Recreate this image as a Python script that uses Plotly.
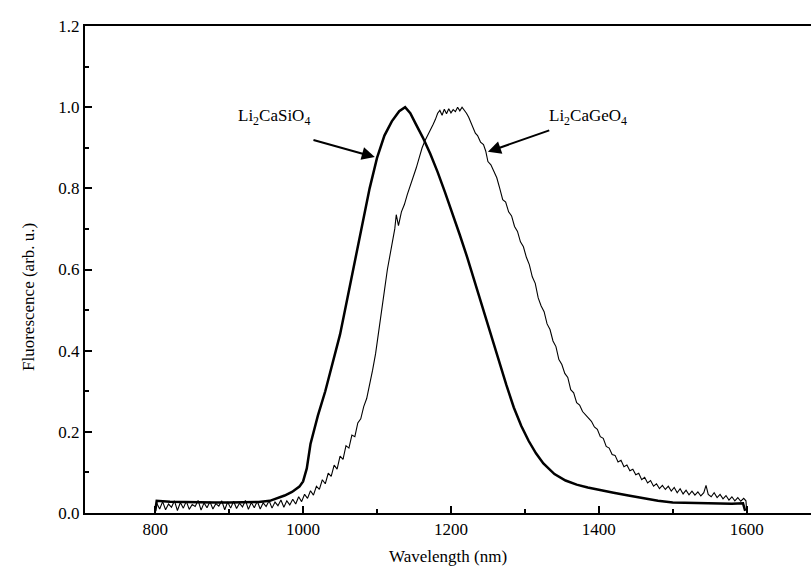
import plotly.graph_objects as go

# Li2CaSiO4 (thick, smooth)
si_x = [800, 802, 820, 840, 860, 880, 900, 920, 940, 955,
        965, 975, 985, 995, 1000, 1005, 1010, 1020, 1030, 1040,
        1050, 1060, 1070, 1080, 1090, 1100, 1110, 1120, 1130, 1138,
        1145, 1152, 1162, 1172, 1182, 1192, 1202, 1212, 1222, 1232,
        1243, 1255, 1265, 1275, 1285, 1295, 1305, 1315, 1325, 1340,
        1355, 1370, 1385, 1400, 1420, 1440, 1460, 1480, 1500, 1520,
        1540, 1560, 1580, 1595, 1598]
si_y = [0.005, 0.030, 0.028, 0.027, 0.027, 0.026, 0.026, 0.026, 0.027, 0.030,
        0.036, 0.043, 0.052, 0.065, 0.078, 0.110, 0.170, 0.240, 0.300, 0.370,
        0.440, 0.530, 0.620, 0.710, 0.800, 0.875, 0.930, 0.965, 0.990, 1.000,
        0.985, 0.960, 0.925, 0.885, 0.840, 0.790, 0.740, 0.685, 0.630, 0.570,
        0.505, 0.435, 0.375, 0.315, 0.260, 0.215, 0.178, 0.147, 0.122, 0.096,
        0.080, 0.070, 0.063, 0.057, 0.050, 0.043, 0.037, 0.030, 0.026, 0.025,
        0.024, 0.024, 0.023, 0.024, 0.005]

# Li2CaGeO4 (thin, noisy)
ge_x = [800, 802, 806, 810, 814, 818, 822, 826, 830, 834,
        838, 842, 846, 850, 854, 858, 862, 866, 870, 874,
        878, 882, 886, 890, 894, 898, 902, 906, 910, 914,
        918, 922, 926, 930, 934, 938, 942, 946, 950, 954,
        958, 962, 966, 970, 974, 978, 982, 986, 990, 994,
        998, 1002, 1006, 1010, 1014, 1018, 1022, 1026, 1030, 1034,
        1038, 1042, 1046, 1050, 1054, 1058, 1062, 1066, 1070, 1074,
        1078, 1082, 1086, 1090, 1094, 1098, 1102, 1106, 1110, 1114,
        1118, 1122, 1124, 1126, 1129, 1133, 1137, 1141, 1145, 1149,
        1153, 1157, 1161, 1165, 1169, 1173, 1176, 1179, 1182, 1185,
        1188, 1191, 1194, 1197, 1200, 1203, 1206, 1209, 1212, 1215,
        1218, 1221, 1224, 1227, 1230, 1233, 1236, 1240, 1244, 1247,
        1250, 1254, 1258, 1262, 1266, 1270, 1274, 1278, 1282, 1286,
        1290, 1294, 1298, 1302, 1306, 1310, 1314, 1318, 1322, 1326,
        1330, 1334, 1338, 1342, 1346, 1350, 1354, 1358, 1362, 1366,
        1370, 1374, 1378, 1382, 1386, 1390, 1394, 1398, 1402, 1406,
        1410, 1414, 1418, 1422, 1426, 1430, 1434, 1438, 1442, 1446,
        1450, 1454, 1458, 1462, 1466, 1470, 1474, 1478, 1482, 1486,
        1490, 1494, 1498, 1502, 1506, 1510, 1514, 1518, 1522, 1526,
        1530, 1534, 1538, 1542, 1545, 1548, 1552, 1556, 1560, 1564,
        1568, 1572, 1576, 1580, 1584, 1588, 1592, 1596, 1599, 1600]
ge_y = [0.005, 0.024, 0.010, 0.028, 0.008, 0.022, 0.014, 0.030, 0.006, 0.026,
        0.012, 0.029, 0.009, 0.021, 0.016, 0.031, 0.007, 0.025, 0.013, 0.028,
        0.010, 0.023, 0.017, 0.030, 0.008, 0.027, 0.012, 0.029, 0.011, 0.024,
        0.015, 0.031, 0.009, 0.026, 0.013, 0.029, 0.010, 0.025, 0.016, 0.030,
        0.012, 0.027, 0.018, 0.032, 0.014, 0.030, 0.020, 0.034, 0.022, 0.040,
        0.028, 0.046, 0.036, 0.055, 0.044, 0.066, 0.058, 0.082, 0.072, 0.098,
        0.090, 0.118, 0.108, 0.140, 0.132, 0.166, 0.160, 0.192, 0.188, 0.222,
        0.232, 0.262, 0.282, 0.315, 0.352, 0.392, 0.440, 0.492, 0.548, 0.600,
        0.640, 0.672, 0.700, 0.735, 0.708, 0.742, 0.760, 0.785, 0.805, 0.828,
        0.850, 0.875, 0.900, 0.918, 0.932, 0.945, 0.958, 0.970, 0.985, 0.992,
        0.980, 0.995, 0.984, 0.996, 0.986, 0.994, 0.989, 1.000, 0.991, 1.000,
        0.993, 0.985, 0.975, 0.962, 0.948, 0.936, 0.930, 0.914, 0.908, 0.892,
        0.866, 0.858, 0.842, 0.826, 0.800, 0.772, 0.766, 0.742, 0.732, 0.706,
        0.694, 0.668, 0.656, 0.630, 0.612, 0.582, 0.566, 0.530, 0.510, 0.496,
        0.466, 0.452, 0.424, 0.410, 0.378, 0.366, 0.344, 0.334, 0.304, 0.296,
        0.272, 0.266, 0.250, 0.242, 0.232, 0.226, 0.212, 0.206, 0.188, 0.184,
        0.164, 0.160, 0.144, 0.142, 0.126, 0.130, 0.114, 0.118, 0.104, 0.108,
        0.094, 0.098, 0.082, 0.088, 0.074, 0.080, 0.066, 0.072, 0.060, 0.068,
        0.058, 0.066, 0.054, 0.063, 0.050, 0.060, 0.047, 0.056, 0.045, 0.054,
        0.044, 0.052, 0.042, 0.050, 0.068, 0.046, 0.040, 0.050, 0.038, 0.046,
        0.035, 0.043, 0.032, 0.040, 0.030, 0.038, 0.029, 0.036, 0.030, 0.005]

x_ticks = [800, 1000, 1200, 1400, 1600]
y_ticks = [0.0, 0.2, 0.4, 0.6, 0.8, 1.0, 1.2]
x_range = [705, 1687]
y_range = [0, 1.2]

FONT = "Liberation Serif"

fig = go.Figure()
fig.add_trace(go.Scatter(x=ge_x, y=ge_y, mode="lines", line=dict(color="black", width=1.1),
                         showlegend=False))
fig.add_trace(go.Scatter(x=si_x, y=si_y, mode="lines", line=dict(color="black", width=2.5),
                         showlegend=False))

axis_common = dict(showline=True, linecolor="black", linewidth=2, ticks="inside",
                   tickcolor="black", tickwidth=2, ticklen=7, showgrid=False, zeroline=False,
                   tickfont=dict(family=FONT, size=17, color="black"))

fig.update_xaxes(range=x_range, tickvals=x_ticks, ticktext=[str(v) for v in x_ticks],
                 mirror=True, minor=dict(ticks="inside", dtick=100, tick0=0, ticklen=4,
                                         tickwidth=2, tickcolor="black", showgrid=False),
                 **axis_common)
fig.update_yaxes(range=y_range, tickvals=y_ticks, ticktext=[f"{v:.1f}" for v in y_ticks],
                 minor=dict(ticks="inside", dtick=0.1, tick0=0, ticklen=4, tickwidth=2,
                            tickcolor="black", showgrid=False),
                 **axis_common)

annotations = [
    dict(x=0.5, y=-43 / 487, xref="paper", yref="paper", text="Wavelength (nm)", showarrow=False,
         xanchor="center", yanchor="middle", font=dict(family=FONT, size=17, color="black")),
    dict(x=-57 / 726, y=(513 - 297) / 487, xref="paper", yref="paper",
         text="Fluorescence (arb. u.)", showarrow=False, textangle=-90,
         xanchor="center", yanchor="middle", font=dict(family=FONT, size=17, color="black")),
    dict(x=960, y=0.975, xref="x", yref="y", text="Li<sub>2</sub>CaSiO<sub>4</sub>",
         showarrow=False, xanchor="center", yanchor="middle",
         font=dict(family=FONT, size=17, color="black")),
    dict(x=1385, y=0.975, xref="x", yref="y", text="Li<sub>2</sub>CaGeO<sub>4</sub>",
         showarrow=False, xanchor="center", yanchor="middle",
         font=dict(family=FONT, size=17, color="black")),
    dict(x=1097, y=0.877, ax=1012, ay=0.92, xref="x", yref="y", axref="x", ayref="y", text="",
         showarrow=True, arrowhead=2, arrowsize=1.3, arrowwidth=2, arrowcolor="black"),
    dict(x=1250, y=0.89, ax=1335, ay=0.944, xref="x", yref="y", axref="x", ayref="y", text="",
         showarrow=True, arrowhead=2, arrowsize=1.3, arrowwidth=2, arrowcolor="black"),
]

fig.update_layout(width=811, height=569, margin=dict(l=85, r=0, t=26, b=56),
                  plot_bgcolor="white", paper_bgcolor="white", annotations=annotations,
                  font=dict(family=FONT, color="black"))

fig.write_html("out.html")
